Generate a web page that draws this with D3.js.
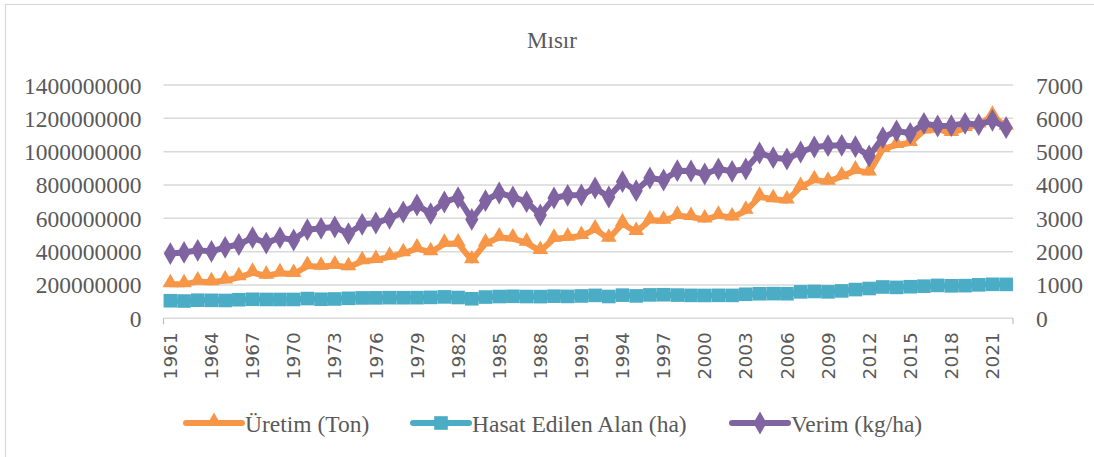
<!DOCTYPE html>
<html><head><meta charset="utf-8">
<script src="https://cdn.jsdelivr.net/npm/d3@7"></script>
<style>body{margin:0;background:#fff}svg{display:block}</style>
</head><body>
<svg id="c" width="1094" height="457"></svg>
<script>
const years = d3.range(1961, 2023);
const tickYears = years.filter((y, i) => i % 3 === 0);
const seriesNames = ["Üretim (Ton)", "Hasat Edilen Alan (ha)", "Verim (kg/ha)"];
const leftTicks = [0, 200000000, 400000000, 600000000, 800000000, 1000000000, 1200000000, 1400000000];
const rightTicks = [0, 1000, 2000, 3000, 4000, 5000, 6000, 7000];
// Production (tonnes)
const production = [205.0,205.0,220.3,216.7,226.5,245.9,273.0,255.4,270.4,265.8,
 313.6,308.9,316.8,306.6,342.4,349.7,368.8,390.5,418.4,396.6,
 446.8,449.4,347.6,449.0,485.5,478.6,453.0,403.2,476.8,483.3,
 494.3,533.6,477.2,568.7,517.3,589.1,584.9,615.4,607.4,592.5,
 615.5,604.5,645.2,728.9,714.3,706.8,788.1,829.2,820.0,851.7,
 886.9,875.1,1016.4,1039.7,1052.1,1127.6,1134.7,1112.0,1141.5,1163.4,
 1215.0,1150.0].map(v => v * 1e6);
// Harvested area (ha)
const area = [105.5,103.8,108.5,107.9,107.0,111.5,114.1,113.1,113.0,113.1,
 118.5,114.4,116.0,119.9,122.3,122.7,123.8,123.6,123.8,125.5,
 128.4,124.8,117.2,127.5,130.5,131.9,130.5,130.1,132.8,131.3,
 134.0,137.5,130.8,138.9,134.4,140.4,141.4,139.3,137.6,137.1,
 137.8,137.4,144.3,147.3,148.1,147.6,158.6,161.0,158.8,164.3,
 172.4,178.8,188.0,185.5,189.6,192.8,197.4,194.9,196.0,200.8,
 204.0,203.5].map(v => v * 1e6);
// Yield (kg/ha)
const yieldKg = [1943,1975,2040,2008,2130,2215,2420,2258,2420,2350,
 2660,2700,2740,2540,2820,2860,3000,3190,3400,3140,
 3490,3620,2966,3530,3760,3640,3500,3100,3610,3690,
 3700,3910,3640,4100,3830,4210,4150,4430,4420,4330,
 4480,4410,4480,4960,4820,4780,4990,5140,5180,5190,
 5150,4870,5420,5620,5550,5850,5770,5780,5850,5810,
 5940,5720];

const colors = ["#F79646", "#4BACC6", "#8064A2"];
const textCol = "#595959";
const serif = "'Liberation Serif','Times New Roman',serif";

const svg = d3.select("#c");
const L = 163.5, R = 1013, T = 85, B = 318.3;

// outer border
svg.append("rect").attr("x", 5.5).attr("y", 4.5).attr("width", 1200).attr("height", 600)
  .attr("fill", "none").attr("stroke", "#D9D9D9").attr("stroke-width", 1.2);

const x = d3.scaleBand().domain(years).range([L, R]);
const cx = d => x(d) + x.bandwidth() / 2;
const yL = d3.scaleLinear().domain([0, 1400000000]).range([B, T]);
const yR = d3.scaleLinear().domain([0, 7000]).range([B, T]);

// title
svg.append("text").attr("x", 552).attr("y", 48).attr("text-anchor", "middle")
  .attr("font-family", serif).attr("font-size", 23).attr("fill", textCol).text("Mısır");

// gridlines
svg.append("g").selectAll("line").data(leftTicks).join("line")
  .attr("x1", L).attr("x2", R).attr("y1", d => yL(d)).attr("y2", d => yL(d))
  .attr("stroke", "#D9D9D9").attr("stroke-width", 1.5);

// left axis
const gl = svg.append("g").attr("transform", `translate(${L - 19},0)`)
  .call(d3.axisLeft(yL).tickValues(leftTicks).tickSize(0).tickFormat(d3.format("d")));
gl.select(".domain").remove();
gl.selectAll("text").attr("font-family", serif).attr("font-size", 23.5).attr("fill", textCol).attr("dy", "0.34em");

// right axis
const gr = svg.append("g").attr("transform", `translate(${R + 20},0)`)
  .call(d3.axisRight(yR).tickValues(rightTicks).tickSize(0).tickFormat(d3.format("d")));
gr.select(".domain").remove();
gr.selectAll("text").attr("font-family", serif).attr("font-size", 23.5).attr("fill", textCol).attr("dy", "0.34em");

// x axis
const gx = svg.append("g").attr("transform", `translate(0,${B})`)
  .call(d3.axisBottom(x).tickValues(tickYears).tickSize(0));
gx.select(".domain").remove();
gx.selectAll("text").attr("font-family", "'DejaVu Sans',sans-serif").attr("font-size", 18.5)
  .attr("fill", textCol).attr("transform", "rotate(-90)")
  .attr("text-anchor", "end").attr("x", -14).attr("y", 0).attr("dy", "0.36em");
// small end ticks
svg.append("g").selectAll("line").data([L, R]).join("line")
  .attr("x1", d => d).attr("x2", d => d).attr("y1", B).attr("y2", B + 6)
  .attr("stroke", "#BFBFBF").attr("stroke-width", 1.2);

const sym = [d3.symbolTriangle, d3.symbolSquare, d3.symbolDiamond];
const symSize = [105, 185, 150];
const datasets = [
  { vals: production, y: yL },
  { vals: area, y: yL },
  { vals: yieldKg, y: yR }
];
datasets.forEach((ds, k) => {
  const pts = years.map((yr, i) => [cx(yr), ds.y(ds.vals[i])]);
  const g = svg.append("g");
  g.append("path").attr("d", d3.line()(pts)).attr("fill", "none")
    .attr("stroke", colors[k]).attr("stroke-width", 6).attr("stroke-linejoin", "round").attr("stroke-linecap", "round");
  g.selectAll("path.m").data(pts).join("path").attr("class", "m")
    .attr("transform", d => `translate(${d[0]},${d[1] + (k === 0 ? -1.5 : 0)})`)
    .attr("d", d3.symbol(sym[k], symSize[k])).attr("fill", colors[k]);
});

// legend
const legX = [186, 413, 732];
const lg = svg.append("g");
seriesNames.forEach((n, k) => {
  const g = lg.append("g").attr("transform", `translate(${legX[k]},423)`);
  g.append("line").attr("x1", 0).attr("x2", 56).attr("y1", 0).attr("y2", 0)
    .attr("stroke", colors[k]).attr("stroke-width", 6).attr("stroke-linecap", "round");
  g.append("path").attr("transform", `translate(28,${k === 0 ? -1.5 : 0})`).attr("d", d3.symbol(sym[k], symSize[k])).attr("fill", colors[k]);
  g.append("text").attr("x", 59).attr("y", 8.5).attr("font-family", serif).attr("font-size", 23.5)
    .attr("fill", textCol).text(n);
});
</script>
</body></html>
